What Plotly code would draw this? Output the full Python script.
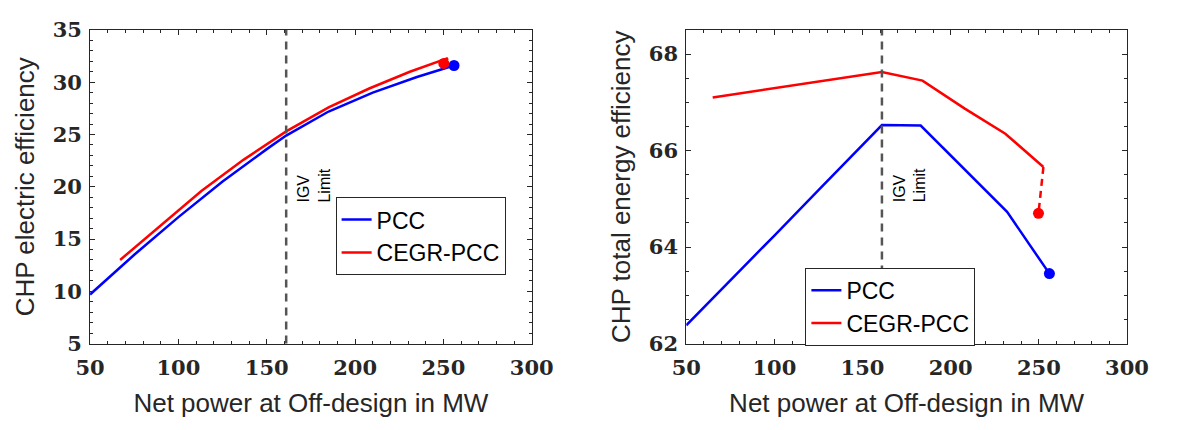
import plotly.graph_objects as go

# ---------------- data ----------------
# Left panel: CHP electric efficiency
pcc_el_x = [50, 75, 100, 125, 150, 161, 185, 210, 235, 256]
pcc_el_y = [9.7, 13.5, 17.1, 20.5, 23.6, 24.9, 27.2, 29.0, 30.5, 31.6]
cegr_el_x = [67, 90, 113, 137, 161, 185, 208, 231, 252.5]
cegr_el_y = [13.0, 16.3, 19.6, 22.6, 25.3, 27.6, 29.4, 31.0, 32.3]
cegr_el_end_x = [252.5, 250.2]
cegr_el_end_y = [32.3, 31.8]

# Right panel: CHP total energy efficiency
pcc_tot_x = [50, 75, 100, 125, 150, 161, 183, 232, 256]
pcc_tot_y = [62.38, 63.3, 64.24, 65.18, 66.13, 66.53, 66.52, 64.73, 63.45]
cegr_tot_x = [65, 90, 113, 137, 161, 184, 208, 231, 252.6]
cegr_tot_y = [67.1, 67.24, 67.36, 67.5, 67.63, 67.45, 66.87, 66.35, 65.66]
cegr_tot_end_x = [252.6, 249.8]
cegr_tot_end_y = [65.66, 64.7]

igv_limit = 161
series_names = ["PCC", "CEGR-PCC"]
x_title = "Net power at Off-design in MW"
y_titles = ["CHP electric efficiency", "CHP total energy efficiency"]

BLUE = "#0000FF"
RED = "#FF0000"
AX = "#262626"

fig = go.Figure()

def add_panel(xa, ya, legend, px, py, cx, cy, cex, cey):
    fig.add_trace(go.Scatter(x=px, y=py, mode="lines", name=series_names[0],
                             line=dict(color=BLUE, width=2.5), xaxis=xa, yaxis=ya,
                             legend=legend))
    fig.add_trace(go.Scatter(x=cx, y=cy, mode="lines", name=series_names[1],
                             line=dict(color=RED, width=2.5), xaxis=xa, yaxis=ya,
                             legend=legend))
    fig.add_trace(go.Scatter(x=cex, y=cey, mode="lines", showlegend=False,
                             line=dict(color=RED, width=2.5, dash="7px,5px"),
                             xaxis=xa, yaxis=ya))
    fig.add_trace(go.Scatter(x=[px[-1]], y=[py[-1]], mode="markers", showlegend=False,
                             marker=dict(color=BLUE, size=11), xaxis=xa, yaxis=ya))
    fig.add_trace(go.Scatter(x=[cex[-1]], y=[cey[-1]], mode="markers", showlegend=False,
                             marker=dict(color=RED, size=11), xaxis=xa, yaxis=ya))

add_panel("x", "y", "legend", pcc_el_x, pcc_el_y, cegr_el_x, cegr_el_y,
          cegr_el_end_x, cegr_el_end_y)
add_panel("x2", "y2", "legend2", pcc_tot_x, pcc_tot_y, cegr_tot_x, cegr_tot_y,
          cegr_tot_end_x, cegr_tot_end_y)

W, H = 1179, 430
ytop, ybot = 1 - 18 / H, 1 - 351 / H

tickfont = dict(family="DejaVu Serif", size=21, color=AX, weight="bold")
titlefont = dict(family="Liberation Sans", size=26, color=AX)

def xaxis(domain, anchor):
    return dict(domain=domain, anchor=anchor, range=[50, 300], dtick=50,
                showgrid=False, zeroline=False, showline=True, linecolor=AX,
                linewidth=1, mirror="ticks", ticks="inside", ticklen=5,
                tickcolor=AX, tickfont=tickfont, ticklabelstandoff=5,
                minor=dict(ticks="inside", dtick=10, ticklen=3, tickcolor=AX),
                title=dict(text=x_title, font=titlefont, standoff=15))

def yaxis(domain, anchor, rng, dtick, mdtick, title):
    return dict(domain=domain, anchor=anchor, range=rng, dtick=dtick,
                showgrid=False, zeroline=False, showline=True, linecolor=AX,
                linewidth=1, mirror="ticks", ticks="inside", ticklen=5,
                tickcolor=AX, tickfont=tickfont, ticklabelstandoff=3,
                minor=dict(ticks="inside", dtick=mdtick, ticklen=3, tickcolor=AX),
                title=dict(text=title, font=titlefont, standoff=10))

legend_common = dict(font=dict(family="Liberation Sans", size=23, color="#000000"),
                     bgcolor="white", bordercolor=AX, borderwidth=1,
                     xanchor="left", yanchor="top", tracegroupgap=0,
                     itemwidth=30)

fig.update_layout(
    width=W, height=H,
    margin=dict(l=0, r=0, t=0, b=0),
    paper_bgcolor="white", plot_bgcolor="white",
    xaxis=xaxis([77.5 / W, 533.5 / W], "y"),
    yaxis=yaxis([ybot, ytop], "x", [5, 35], 5, 1, y_titles[0]),
    xaxis2=xaxis([693 / W, 1148 / W], "y2"),
    yaxis2=yaxis([ybot, ytop], "x2", [62, 68.5], 2, 0.5, y_titles[1]),
    legend=dict(x=331 / W, y=1 - 195.5 / H, **legend_common),
    legend2=dict(x=816 / W, y=1 - 270.5 / H, **legend_common),
    showlegend=True,
)

for xa, ya in [("x", "y"), ("x2", "y2")]:
    fig.add_shape(type="line", xref=xa, yref=ya + " domain", x0=igv_limit, x1=igv_limit,
                  y0=0, y1=1, line=dict(color="#555555", width=2.5, dash="8px,6px"))
    fig.add_annotation(xref=xa, yref="paper", x=igv_limit, y=1 - 183 / H,
                       text="IGV<br>Limit", textangle=-90, showarrow=False,
                       xanchor="center", yanchor="middle", xshift=28, align="left",
                       font=dict(family="Liberation Sans", size=16, color="#000000"))

fig.write_html("out.html")
